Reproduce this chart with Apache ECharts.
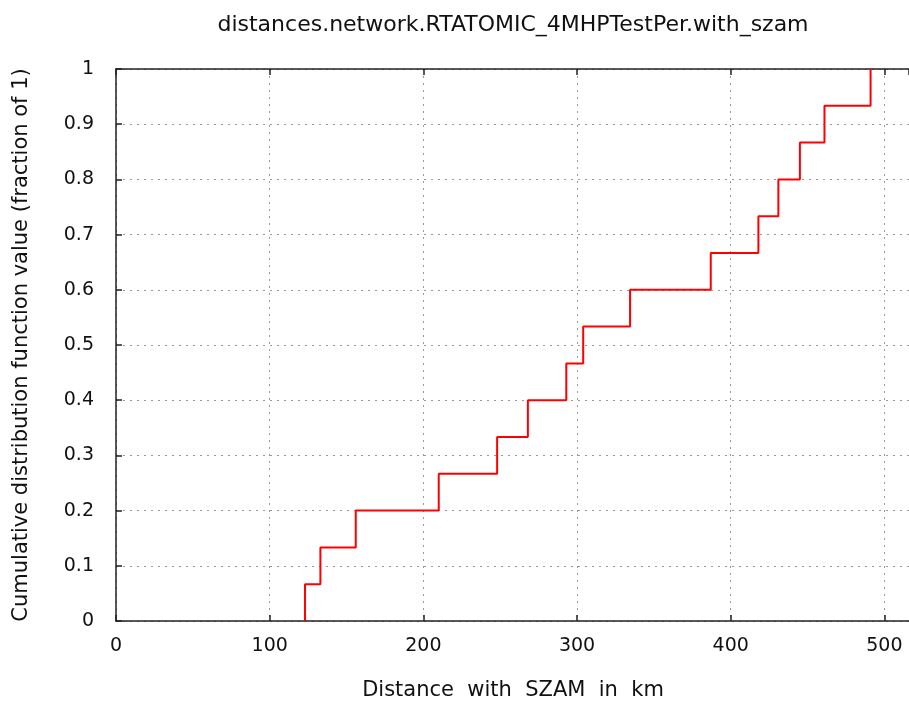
<!DOCTYPE html>
<html>
<head>
<meta charset="utf-8">
<script src="https://cdn.jsdelivr.net/npm/echarts@6/dist/echarts.min.js"></script>
<style>
    html, body {margin: 0; padding: 0; background: #fff;}
    #chart {width: 909px; height: 701px;}
</style>
</head>
<body>
<div id="chart"></div>
<script>
// distances (km), one per step
const distances = [123, 133, 156, 210, 248, 268, 293, 304, 334.5, 387, 418, 431, 445, 461, 491];
// cumulative fraction reached at each step
const cdfValues = [0.0667, 0.1333, 0.2, 0.2667, 0.3333, 0.4, 0.4667, 0.5333, 0.6, 0.6667, 0.7333, 0.8, 0.8667, 0.9333, 1];
const xTicks = [0, 100, 200, 300, 400, 500];
const yTicks = [0, 0.1, 0.2, 0.3, 0.4, 0.5, 0.6, 0.7, 0.8, 0.9, 1];
// the plot is cut by the right edge of the picture
const xVisibleMax = 516;

const titleText = 'distances.network.RTATOMIC_4MHPTestPer.with_szam';
const xName = 'Distance  with  SZAM  in  km';
const yName = 'Cumulative distribution function value (fraction of 1)';

// step line starts at zero on the first distance
let points = [[distances[0], 0]];
distances.forEach(function (d, i) {
    points.push([d, cdfValues[i]]);
});

const font = 'DejaVu Sans, Arial, sans-serif';
const gridLine = {show: true, lineStyle: {color: '#999', type: [2, 5], width: 1}};
const axisLine = {show: true, lineStyle: {color: '#222', width: 1.5}};
const tick = {show: true, inside: true, length: 6, lineStyle: {color: '#222', width: 1.5}};

let myChart = echarts.init(document.getElementById('chart'));

myChart.setOption({
    animation: false,
    backgroundColor: '#fff',
    title: {
        text: titleText,
        left: 508,
        textAlign: 'center',
        top: 9,
        textStyle: {fontFamily: font, fontSize: 22, fontWeight: 'normal', color: '#111'}
    },
    grid: {
        left: 116,
        top: 69,
        right: -3,
        height: 552,
        show: false
    },
    xAxis: [{
        type: 'value',
        min: xTicks[0],
        max: xVisibleMax,
        interval: 100,
        position: 'bottom',
        axisLine: axisLine,
        axisTick: tick,
        axisLabel: {fontFamily: font, fontSize: 19, color: '#111', margin: 16, showMaxLabel: false},
        splitLine: gridLine
    }, {
        type: 'value',
        min: xTicks[0],
        max: xVisibleMax,
        interval: 100,
        position: 'top',
        axisLine: axisLine,
        axisTick: tick,
        axisLabel: {show: false},
        splitLine: {show: false}
    }],
    yAxis: {
        type: 'value',
        min: yTicks[0],
        max: yTicks[yTicks.length - 1],
        interval: 0.1,
        axisLine: axisLine,
        axisTick: tick,
        axisLabel: {fontFamily: font, fontSize: 19, color: '#111', margin: 22},
        splitLine: gridLine,
        name: yName,
        nameLocation: 'middle',
        nameGap: 84,
        nameTextStyle: {fontFamily: font, fontSize: 21, color: '#111'}
    },
    graphic: [{
        type: 'text',
        x: 513,
        y: 680,
        style: {
            text: xName,
            textAlign: 'center',
            textVerticalAlign: 'top',
            font: '21px ' + font,
            fill: '#111'
        }
    }],
    series: [{
        type: 'line',
        step: 'end',
        data: points,
        showSymbol: false,
        lineStyle: {color: '#ff0000', width: 2},
        itemStyle: {color: '#ff0000'}
    }]
});
</script>
</body>
</html>
